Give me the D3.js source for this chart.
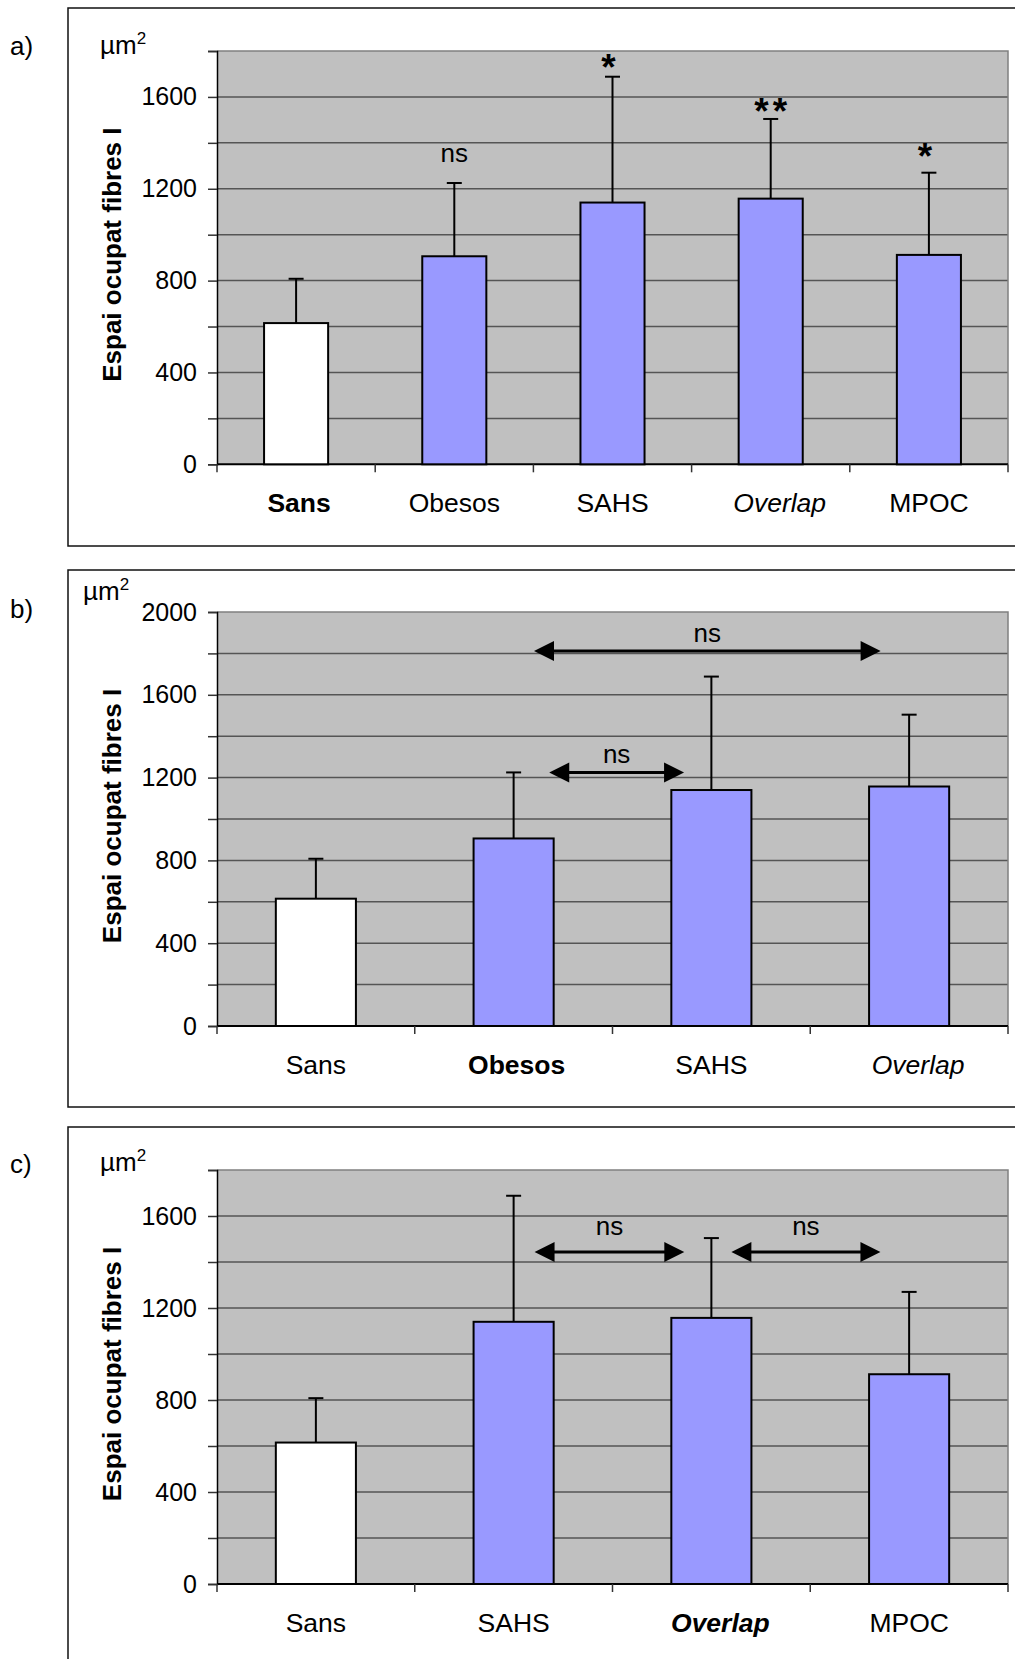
<!DOCTYPE html>
<html>
<head>
<meta charset="utf-8">
<script src="https://cdn.jsdelivr.net/npm/d3@7/dist/d3.min.js"></script>
<style>
  html, body { margin: 0; padding: 0; background: #fff; }
  svg { display: block; }
  text { font-family: Arial, "Liberation Sans", sans-serif; fill: #000; }
</style>
</head>
<body>
<svg id="chart" width="1015" height="1659"></svg>
<script>
// ---------------- DATA ----------------
const categories = ["Sans", "Obesos", "SAHS", "Overlap", "MPOC"];
const meanValues = [615, 906, 1140, 1157, 912];      // bar heights (µm²)
const errorTops  = [808, 1225, 1688, 1504, 1270];    // mean + SD

const panelLetters = ["a)", "b)", "c)"];
const panelCategories = [
  ["Sans", "Obesos", "SAHS", "Overlap", "MPOC"],
  ["Sans", "Obesos", "SAHS", "Overlap"],
  ["Sans", "SAHS", "Overlap", "MPOC"]
];
const panelYMax = [1800, 2000, 1800];
const yTickLabelsA = [0, 400, 800, 1200, 1600];
const yTickLabelsB = [0, 400, 800, 1200, 1600, 2000];
const yTickLabelsC = [0, 400, 800, 1200, 1600];
const yTickStep = 200;

// category label emphasis per panel
const panelLabelStyles = [
  { Sans: "bold", Overlap: "italic" },
  { Obesos: "bold", Overlap: "italic" },
  { Overlap: "bolditalic" }
];

// significance labels above bars (panel a): value = visual centre of label
const sigLabelsA = [
  { cat: "Obesos", label: "ns", value: 1345 },
  { cat: "SAHS", label: "*", value: 1765 },
  { cat: "Overlap", label: "**", value: 1572 },
  { cat: "MPOC", label: "*", value: 1376 }
];
// comparison arrows: from/to in category-index units, value = arrow level
const arrowsB = [
  { from: 1.103, to: 2.856, value: 1812, label: "ns", labelValue: 1887 },
  { from: 1.180, to: 1.862, value: 1225, label: "ns", labelValue: 1305 }
];
const arrowsC = [
  { from: 1.106, to: 1.863, value: 1443, label: "ns", labelValue: 1545 },
  { from: 2.101, to: 2.855, value: 1443, label: "ns", labelValue: 1545 }
];

// ---------------- LAYOUT ----------------
const layout = [
  { boxTop: 8,    boxBottom: 546,  plotTop: 51,   plotBottom: 464.3, unitX: 100, unitY: 54,  letterY: 55 },
  { boxTop: 570,  boxBottom: 1107, plotTop: 612,  plotBottom: 1026,  unitX: 83,  unitY: 600, letterY: 618 },
  { boxTop: 1127, boxBottom: 1700, plotTop: 1170, plotBottom: 1584,  unitX: 100, unitY: 1171, letterY: 1173 }
];
const plotLeft = 217, plotRight = 1008;
const boxLeft = 68;
const barFrac = 0.405;
const colors = { plotBg: "#c0c0c0", grid: "#555555", border: "#808080", bar: "#9999ff", first: "#ffffff" };

const svg = d3.select("#chart");
const tickLabelSets = [yTickLabelsA, yTickLabelsB, yTickLabelsC];
const sigSets = [sigLabelsA, [], []];
const arrowSets = [[], arrowsB, arrowsC];

panelCategories.forEach((cats, p) => {
  const L = layout[p];
  const g = svg.append("g");

  // panel frame
  g.append("rect").attr("x", boxLeft).attr("y", L.boxTop)
    .attr("width", 1100).attr("height", L.boxBottom - L.boxTop)
    .attr("fill", "none").attr("stroke", "#111").attr("stroke-width", 1.5);

  const x = d3.scaleBand().domain(cats).range([plotLeft, plotRight]).padding(0);
  const xIdx = d3.scaleLinear().domain([-0.5, cats.length - 0.5]).range([plotLeft, plotRight]);
  const y = d3.scaleLinear().domain([0, panelYMax[p]]).range([L.plotBottom, L.plotTop]);
  const gridVals = d3.range(0, panelYMax[p] + 1, yTickStep);

  // plot background
  g.append("rect").attr("x", plotLeft).attr("y", y(panelYMax[p]))
    .attr("width", plotRight - plotLeft).attr("height", y(0) - y(panelYMax[p]))
    .attr("fill", colors.plotBg);

  // gridlines
  g.selectAll(".grid").data(gridVals.filter(v => v > 0 && v < panelYMax[p])).enter()
    .append("line")
    .attr("x1", plotLeft).attr("x2", plotRight)
    .attr("y1", d => y(d)).attr("y2", d => y(d))
    .attr("stroke", colors.grid).attr("stroke-width", 1.5);

  // top & right border of plot area
  g.append("path")
    .attr("d", `M${plotLeft},${y(panelYMax[p])}H${plotRight}V${y(0)}`)
    .attr("fill", "none").attr("stroke", colors.border).attr("stroke-width", 1.5);

  // y axis
  const yAxis = d3.axisLeft(y).tickValues(gridVals).tickSize(9)
    .tickFormat(d => tickLabelSets[p].includes(d) ? d : "");
  const ya = g.append("g").attr("transform", `translate(${plotLeft},0)`).call(yAxis);
  ya.select(".domain").attr("stroke", "#000").attr("stroke-width", 1.5);
  ya.selectAll(".tick line").attr("stroke", "#333").attr("stroke-width", 1.5);
  ya.selectAll(".tick text").attr("x", -20).attr("font-size", 25)
    .style("font-family", 'Arial, "Liberation Sans", sans-serif').attr("fill", "#000");

  // x axis (ticks at category boundaries)
  g.append("line").attr("x1", plotLeft).attr("x2", plotRight)
    .attr("y1", y(0)).attr("y2", y(0)).attr("stroke", "#000").attr("stroke-width", 2);
  const bounds = d3.range(cats.length + 1).map(i => xIdx(i - 0.5));
  g.selectAll(".xt").data(bounds).enter().append("line")
    .attr("x1", d => d).attr("x2", d => d)
    .attr("y1", y(0)).attr("y2", y(0) + 8)
    .attr("stroke", "#333").attr("stroke-width", 1.5);

  // category labels
  const styleOf = d => panelLabelStyles[p][d] || "";
  g.selectAll(".cat").data(cats).enter().append("text")
    .attr("x", d => x(d) + x.bandwidth() / 2 + (styleOf(d).includes("italic") ? 9 : (styleOf(d) === "bold" ? 3 : 0)))
    .attr("y", y(0) + 48)
    .attr("text-anchor", "middle")
    .attr("font-size", 26.5)
    .attr("font-weight", d => styleOf(d).includes("bold") ? "bold" : "normal")
    .attr("font-style", d => styleOf(d).includes("italic") ? "italic" : "normal")
    .text(d => d);

  const bw = x.bandwidth() * barFrac;
  const rows = cats.map(c => {
    const i = categories.indexOf(c);
    return { cat: c, mean: meanValues[i], top: errorTops[i], first: i === 0 };
  });

  // error bars
  const eb = g.selectAll(".eb").data(rows).enter().append("g");
  eb.append("line")
    .attr("x1", d => x(d.cat) + x.bandwidth() / 2).attr("x2", d => x(d.cat) + x.bandwidth() / 2)
    .attr("y1", d => y(d.mean)).attr("y2", d => y(d.top))
    .attr("stroke", "#000").attr("stroke-width", 2);
  eb.append("line")
    .attr("x1", d => x(d.cat) + x.bandwidth() / 2 - 7.5).attr("x2", d => x(d.cat) + x.bandwidth() / 2 + 7.5)
    .attr("y1", d => y(d.top)).attr("y2", d => y(d.top))
    .attr("stroke", "#000").attr("stroke-width", 2);

  // bars
  g.selectAll(".bar").data(rows).enter().append("rect")
    .attr("x", d => x(d.cat) + (x.bandwidth() - bw) / 2)
    .attr("y", d => y(d.mean))
    .attr("width", bw)
    .attr("height", d => y(0) - y(d.mean))
    .attr("fill", d => d.first ? colors.first : colors.bar)
    .attr("stroke", "#000").attr("stroke-width", 2);

  // significance labels
  sigSets[p].forEach(s => {
    const isStar = s.label.includes("*");
    const fs = isStar ? 37 : 26;
    const ls = isStar ? 4 : 0;
    const shift = isStar ? 0.57 * fs : 0.26 * fs;
    g.append("text")
      .attr("x", x(s.cat) + x.bandwidth() / 2 - 2 + (s.label.length - 1) * ls / 2 + (s.label.length > 1 ? 2 : 0))
      .attr("y", y(s.value) + shift)
      .attr("text-anchor", "middle")
      .attr("font-size", fs)
      .attr("font-weight", isStar ? "bold" : "normal")
      .attr("letter-spacing", ls)
      .text(s.label);
  });

  // arrows
  arrowSets[p].forEach(a => {
    const x1 = xIdx(a.from), x2 = xIdx(a.to), yy = y(a.value);
    const hl = 20, hh = 10;
    g.append("line").attr("x1", x1 + hl - 2).attr("x2", x2 - hl + 2)
      .attr("y1", yy).attr("y2", yy).attr("stroke", "#000").attr("stroke-width", 3);
    g.append("path").attr("d", `M${x1},${yy}L${x1 + hl},${yy - hh}L${x1 + hl},${yy + hh}Z`).attr("fill", "#000");
    g.append("path").attr("d", `M${x2},${yy}L${x2 - hl},${yy - hh}L${x2 - hl},${yy + hh}Z`).attr("fill", "#000");
    g.append("text")
      .attr("x", (x1 + x2) / 2).attr("y", y(a.labelValue) + 0.26 * 26)
      .attr("text-anchor", "middle").attr("font-size", 26).text(a.label);
  });

  // y-axis title
  const midY = (L.plotTop + L.plotBottom) / 2 - 3;
  g.append("text")
    .attr("transform", `translate(121,${midY}) rotate(-90)`)
    .attr("text-anchor", "middle")
    .attr("font-size", 26).attr("font-weight", "bold")
    .text("Espai ocupat fibres I");

  // unit label
  const ut = g.append("text").attr("x", L.unitX).attr("y", L.unitY).attr("font-size", 26);
  ut.append("tspan").text("µm");
  ut.append("tspan").attr("font-size", 17).attr("dy", -10).text("2");

  // panel letter
  g.append("text").attr("x", 10).attr("y", L.letterY)
    .attr("font-size", 26).text(panelLetters[p]);
});
</script>
</body>
</html>
